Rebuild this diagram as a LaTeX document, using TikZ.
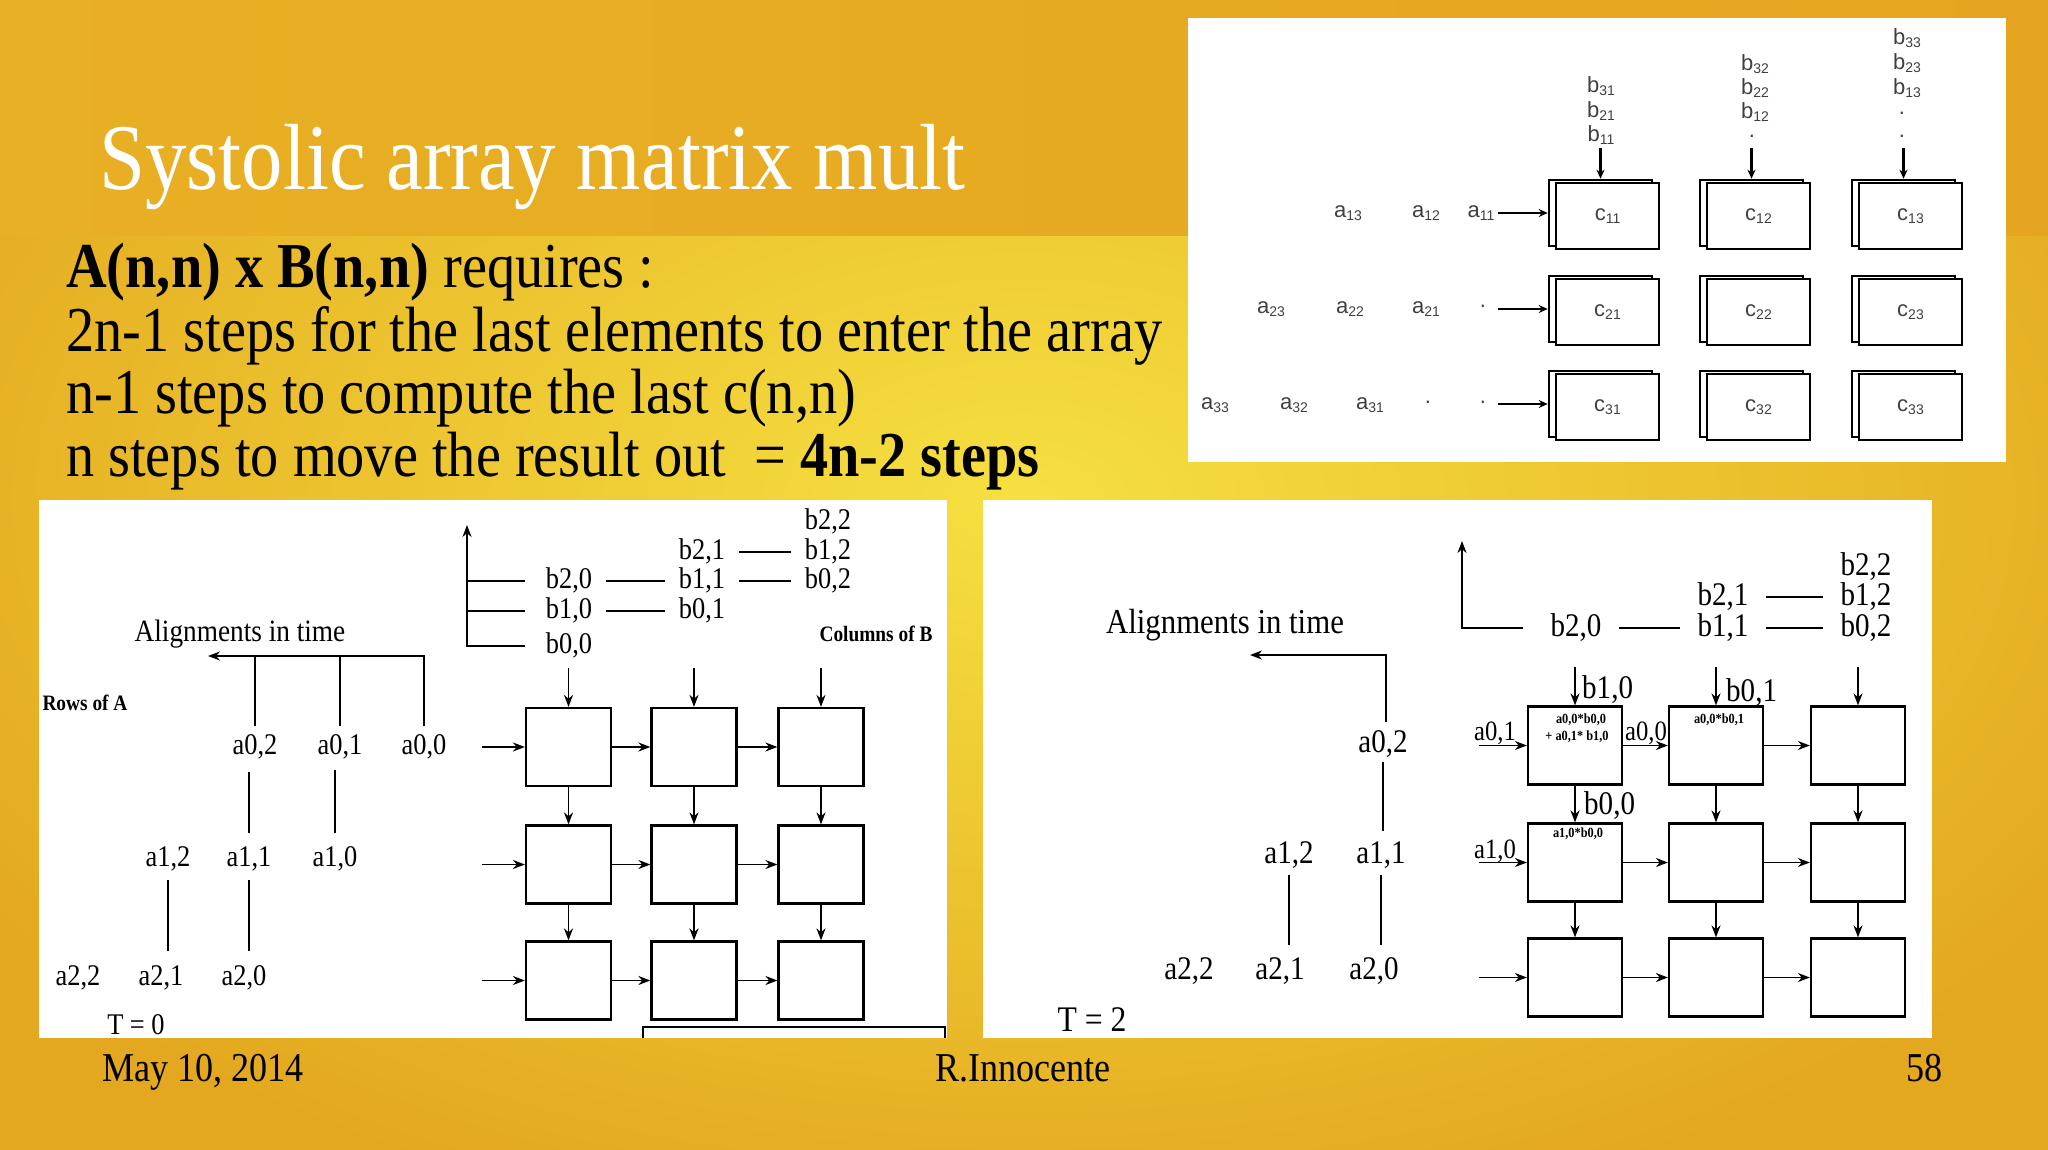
\documentclass[tikz,border=0pt]{standalone}
\usepackage{fontspec}
\setmainfont{Liberation Serif}
\newfontfamily\slf{Liberation Serif}[FakeStretch=0.88]
\newfontfamily\snf{Liberation Sans}
\usetikzlibrary{arrows.meta}
\definecolor{bandL}{HTML}{E8B024}
\definecolor{bandM}{HTML}{E48C0C}
\definecolor{bandR}{HTML}{E5A520}
\definecolor{lowIn}{HTML}{F6E040}
\definecolor{lowOut}{HTML}{E3A81F}
\definecolor{pxgray}{HTML}{404040}
\newcommand\fsz[1]{\fontsize{#1}{#1}\selectfont}
\newcommand\tsub[2]{#1\raisebox{-3pt}{\fsz{14}#2}}
\tikzset{
  lbL/.style={font=\slf\fsz{30}, inner sep=0pt, text height=20pt, text depth=5pt},
  lbR/.style={font=\slf\fsz{33}, inner sep=0pt, text height=22pt, text depth=6pt},
  ln/.style={line width=1.8pt},
  arw/.style={line width=1.8pt, -{Stealth[length=12pt,width=9pt]}},
  peL/.style={draw, line width=2.2pt, fill=white, minimum width=85pt, minimum height=78pt, inner sep=0pt},
  peR/.style={peL, minimum width=94pt},
  tbox/.style={draw, line width=2.6pt, fill=white, minimum width=103pt, minimum height=66pt, inner sep=0pt},
  tarw/.style={line width=2.8pt, -{Stealth[length=9pt,width=8pt]}},
  tlab/.style={font=\snf\fsz{22}, text=pxgray, inner sep=0pt},
  mini/.style={font=\slf\bfseries\fsz{14}, inner sep=0pt},
  bodyt/.style={anchor=base west, inner sep=0pt, font=\slf\fsz{64}},
  foot/.style={inner sep=0pt, font=\slf\fsz{41}}
}
\begin{document}
\begin{tikzpicture}[x=1pt,y=-1pt]
\useasboundingbox (0,0) rectangle (2048,1150);
% background
\begin{scope}
\clip (0,236) rectangle (2048,1150);
\shade[inner color=lowIn, outer color=lowOut] (-250,-250) rectangle (2298,1250);
\end{scope}
\shade[left color=bandL, middle color=bandM, right color=bandR] (0,0) rectangle (2048,236);

% title and body
\node[anchor=base west, inner sep=0pt, text=white, font=\slf\fsz{94}] (title) at (99,190) {Systolic array matrix mult};
\node[bodyt] (l1) at (66,288) {\textbf{A(n,n) x B(n,n)} requires :};
\node[bodyt] (l2) at (66,351) {2n-1 steps for the last elements to enter the array};
\node[bodyt] (l3) at (66,413) {n-1 steps to compute the last c(n,n)};
\node[bodyt] (l4) at (66,476) {n steps to move the result out~ = \textbf{4n-2 steps}};

% footer
\node[foot, anchor=base west] (date) at (102,1081) {May 10, 2014};
\node[foot, anchor=base] (auth) at (1023,1081) {R.Innocente};
\node[foot, anchor=base east] (pg) at (1943,1081) {58};

% ================= top-right picture =================
\fill[white] (1188,18) rectangle (2006,462);
\foreach \c/\x in {1/1607.5,2/1758.5,3/1910.5}{
  \foreach \r/\y in {1/216,2/312,3/407}{
    \node[tbox] (TRb\r\c) at (\x-7,\y-3) {};
    \node[tbox,tlab] (TR\r\c) at (\x,\y) {\tsub{c}{\r\c}};
  }}
\foreach \c in {1,2,3}{\draw[tarw] ([yshift=31pt]TRb1\c.north) -- (TRb1\c.north);}
\foreach \r in {1,2,3}{\draw[tarw] ([xshift=-50pt]TRb\r1.west) -- (TRb\r1.west);}
% b inputs
\node[tlab] (tb31) at (1601,86) {\tsub{b}{31}};
\node[tlab] (tb21) at (1601,111) {\tsub{b}{21}};
\node[tlab] (tb11) at (1601,135) {\tsub{b}{11}};
\node[tlab] (tb32) at (1755,64) {\tsub{b}{32}};
\node[tlab] (tb22) at (1755,88) {\tsub{b}{22}};
\node[tlab] (tb12) at (1755,112) {\tsub{b}{12}};
\node[tlab] (td21) at (1752,136) {.};
\node[tlab] (tb33) at (1907,38) {\tsub{b}{33}};
\node[tlab] (tb23) at (1907,63) {\tsub{b}{23}};
\node[tlab] (tb13) at (1907,88) {\tsub{b}{13}};
\node[tlab] (td31) at (1902,113) {.};
\node[tlab] (td32) at (1902,136) {.};
% a inputs
\node[tlab] (ta13) at (1348,213) {\tsub{a}{13}};
\node[tlab] (ta12) at (1426,213) {\tsub{a}{12}};
\node[tlab] (ta11) at (1481,213) {\tsub{a}{11}};
\node[tlab] (ta23) at (1271,309) {\tsub{a}{23}};
\node[tlab] (ta22) at (1350,309) {\tsub{a}{22}};
\node[tlab] (ta21) at (1426,309) {\tsub{a}{21}};
\node[tlab] (te21) at (1483,306) {.};
\node[tlab] (ta33) at (1215,405) {\tsub{a}{33}};
\node[tlab] (ta32) at (1294,405) {\tsub{a}{32}};
\node[tlab] (ta31) at (1370,405) {\tsub{a}{31}};
\node[tlab] (te31) at (1428,402) {.};
\node[tlab] (te32) at (1483,402) {.};

% ================= left bottom picture (T = 0) =================
\fill[white] (39,500) rectangle (947,1038);
\foreach \c/\x in {1/568.5,2/694,3/821}{
  \foreach \r/\y in {1/747,2/864.5,3/980.5}{
    \node[peL] (L\r\c) at (\x,\y) {};
  }}
\foreach \c in {1,2,3}{
  \draw[arw] ([yshift=39pt]L1\c.north) -- (L1\c.north);
  \draw[arw] (L1\c.south) -- (L2\c.north);
  \draw[arw] (L2\c.south) -- (L3\c.north);}
\foreach \r in {1,2,3}{
  \draw[arw] ([xshift=-43pt]L\r1.west) -- (L\r1.west);
  \draw[arw] (L\r1.east) -- (L\r2.west);
  \draw[arw] (L\r2.east) -- (L\r3.west);}
% B columns
\node[lbL] (Lb22) at (828,522) {b2,2};
\node[lbL] (Lb21) at (702,552) {b2,1};
\node[lbL] (Lb12) at (828,552) {b1,2};
\node[lbL] (Lb20) at (569,581) {b2,0};
\node[lbL] (Lb11) at (702,581) {b1,1};
\node[lbL] (Lb02) at (828,581) {b0,2};
\node[lbL] (Lb10) at (569,611) {b1,0};
\node[lbL] (Lb01) at (702,611) {b0,1};
\node[lbL] (Lb00) at (569,646) {b0,0};
\coordinate (LbTip) at (467,525);
\draw[arw] ([xshift=-21pt]Lb00.west) -| (LbTip);
\draw[ln] ([xshift=-21pt]Lb10.west) -- (Lb10.west -| LbTip);
\draw[ln] ([xshift=-21pt]Lb20.west) -- (Lb20.west -| LbTip);
\draw[ln] ([xshift=14pt]Lb20.east) -- ([xshift=-14pt]Lb11.west);
\draw[ln] ([xshift=14pt]Lb10.east) -- ([xshift=-14pt]Lb01.west);
\draw[ln] ([xshift=14pt]Lb21.east) -- ([xshift=-14pt]Lb12.west);
\draw[ln] ([xshift=14pt]Lb11.east) -- ([xshift=-14pt]Lb02.west);
\node[inner sep=0pt, font=\slf\bfseries\fsz{22}] (colB) at (876,634) {Columns of B};
% A rows
\node[inner sep=0pt, font=\slf\fsz{31}] (alignL) at (240,634) {Alignments in time};
\node[inner sep=0pt, font=\slf\bfseries\fsz{22}] (rowA) at (85,703) {Rows of A};
\node[lbL] (a02) at (255,747) {a0,2};
\node[lbL] (a01) at (340,747) {a0,1};
\node[lbL] (a00) at (424,747) {a0,0};
\node[lbL] (a12) at (168,859) {a1,2};
\node[lbL] (a11) at (249,859) {a1,1};
\node[lbL] (a10) at (335,859) {a1,0};
\node[lbL] (a22) at (78,978) {a2,2};
\node[lbL] (a21) at (161,978) {a2,1};
\node[lbL] (a20) at (244,978) {a2,0};
\coordinate (LaTip) at (208,656);
\draw[arw] ([yshift=8pt]a00.north) |- (LaTip);
\draw[ln] ([yshift=8pt]a01.north) -- (a01.north |- LaTip);
\draw[ln] ([yshift=8pt]a02.north) -- (a02.north |- LaTip);
\draw[ln] ([yshift=13pt]a11.north) -- ++(0,-61);
\draw[ln] ([yshift=13pt]a10.north) -- ++(0,-63);
\draw[ln] ([yshift=-8pt]a12.south) -- ++(0,71);
\draw[ln] ([yshift=-8pt]a11.south) -- ++(0,71);
\node[lbL] (T0) at (136,1027) {T = 0};
% partial box at the bottom
\draw[line width=2pt] (643,1038) -- (643,1027) -- (945,1027) -- (945,1038);

% ================= right bottom picture (T = 2) =================
\fill[white] (983,500) rectangle (1932,1038);
\foreach \c/\x in {1/1575,2/1716,3/1858}{
  \foreach \r/\y in {1/745.5,2/862.5,3/977.5}{
    \node[peR] (R\r\c) at (\x,\y) {};
  }}
\foreach \c in {1,2,3}{
  \draw[arw] ([yshift=38pt]R1\c.north) -- (R1\c.north);
  \draw[arw] (R1\c.south) -- (R2\c.north);
  \draw[arw] (R2\c.south) -- (R3\c.north);}
\foreach \r in {1,2,3}{
  \draw[arw] ([xshift=-48pt]R\r1.west) -- (R\r1.west);
  \draw[arw] (R\r1.east) -- (R\r2.west);
  \draw[arw] (R\r2.east) -- (R\r3.west);}
% B columns
\node[lbR] (Rb22) at (1866,567) {b2,2};
\node[lbR] (Rb21) at (1723,597) {b2,1};
\node[lbR] (Rb12) at (1866,597) {b1,2};
\node[lbR] (Rb20) at (1576,628) {b2,0};
\node[lbR] (Rb11) at (1723,628) {b1,1};
\node[lbR] (Rb02) at (1866,628) {b0,2};
\coordinate (RbTip) at (1462,541);
\draw[arw] ([xshift=-27pt]Rb20.west) -| (RbTip);
\draw[ln] ([xshift=17pt]Rb20.east) -- ([xshift=-17pt]Rb11.west);
\draw[ln] ([xshift=17pt]Rb11.east) -- ([xshift=-17pt]Rb02.west);
\draw[ln] ([xshift=17pt]Rb21.east) -- ([xshift=-17pt]Rb12.west);
% labels on the array
\node[lbR, anchor=west] (Rl10) at (1582,690) {b1,0};
\node[lbR, anchor=west] (Rl01) at (1726,693) {b0,1};
\node[lbR, anchor=west] (Rl00) at (1584,806) {b0,0};
\node[lbR, font=\slf\fsz{28}] (Rla01) at (1495,732) {a0,1};
\node[lbR, font=\slf\fsz{28}] (Rla10) at (1495,850) {a1,0};
\node[lbR, font=\slf\fsz{28}] (Rla00) at (1646,732) {a0,0};
\node[mini] (m1) at (1581,720) {a0,0*b0,0};
\node[mini] (m2) at (1577,737) {+ a0,1* b1,0};
\node[mini] (m3) at (1719,720) {a0,0*b0,1};
\node[mini] (m4) at (1578,834) {a1,0*b0,0};
% A rows
\node[inner sep=0pt, font=\slf\fsz{35}] (alignR) at (1225,625) {Alignments in time};
\node[lbR] (Ra02) at (1383,744) {a0,2};
\node[lbR] (Ra12) at (1289,855) {a1,2};
\node[lbR] (Ra11) at (1381,855) {a1,1};
\node[lbR] (Ra22) at (1189,971) {a2,2};
\node[lbR] (Ra21) at (1280,971) {a2,1};
\node[lbR] (Ra20) at (1374,971) {a2,0};
\coordinate (RaTip) at (1250,655);
\draw[arw] ([xshift=3pt,yshift=8pt]Ra02.north) |- (RaTip);
\draw[ln] ([yshift=-4pt]Ra02.south) -- ++(0,69);
\draw[ln] ([yshift=-6pt]Ra12.south) -- ++(0,70);
\draw[ln] ([yshift=-6pt]Ra11.south) -- ++(0,70);
\node[lbR, font=\slf\fsz{36}] (T2) at (1092,1023) {T = 2};
\end{tikzpicture}
\end{document}
